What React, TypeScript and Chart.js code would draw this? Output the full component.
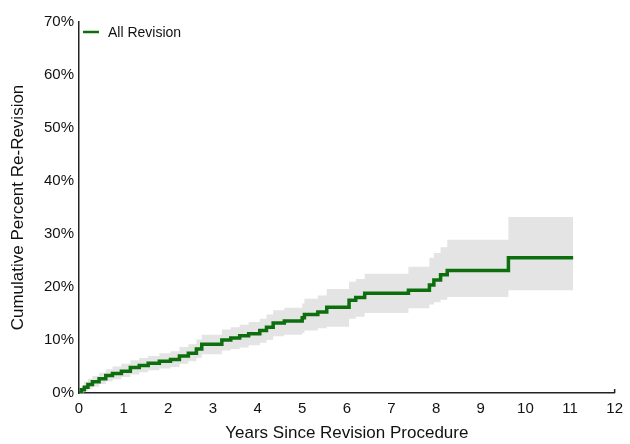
import React, { useEffect, useRef } from 'react';
import { Chart, registerables } from 'chart.js';

Chart.register(...registerables);

const seriesLabel = 'All Revision';
const xTitle = 'Years Since Revision Procedure';
const yTitle = 'Cumulative Percent Re-Revision';

const years = [0, 0.05, 0.12, 0.2, 0.3, 0.45, 0.6, 0.75, 0.95, 1.15, 1.35, 1.55, 1.8, 2.05, 2.25, 2.45, 2.63, 2.75, 3.2, 3.4, 3.6, 3.8, 4.05, 4.2, 4.35, 4.6, 5.0, 5.05, 5.35, 5.55, 6.05, 6.2, 6.4, 7.38, 7.85, 7.95, 8.1, 8.25, 9.62, 11.07];
const cumulative = [0, 0.6, 1.1, 1.6, 2.1, 2.7, 3.3, 3.7, 4.1, 4.8, 5.2, 5.6, 6.0, 6.3, 7.0, 7.5, 8.3, 9.2, 10.0, 10.4, 10.8, 11.2, 11.8, 12.4, 13.2, 13.6, 14.2, 14.8, 15.3, 16.2, 17.5, 18.0, 18.8, 19.4, 20.4, 21.3, 22.3, 23.1, 25.5, 25.5];
const lowerCI = [0, 0.1, 0.4, 0.8, 1.2, 1.7, 2.2, 2.6, 3.0, 3.5, 3.9, 4.3, 4.6, 4.9, 5.5, 6.0, 6.6, 7.3, 8.0, 8.3, 8.6, 9.0, 9.5, 10.0, 10.7, 11.0, 11.3, 11.8, 12.2, 12.5, 14.0, 14.4, 15.1, 16.0, 16.7, 17.1, 17.6, 18.1, 19.4, 19.4];
const upperCI = [0, 1.3, 2.1, 2.7, 3.2, 3.8, 4.5, 5.0, 5.5, 6.2, 6.6, 7.0, 7.5, 7.9, 8.7, 9.2, 10.1, 11.0, 12.0, 12.4, 12.9, 13.4, 14.0, 14.8, 15.6, 16.1, 16.9, 17.8, 18.4, 19.6, 21.0, 21.5, 22.5, 23.8, 25.5, 26.4, 27.5, 28.9, 33.2, 33.2];

const xMin = 0;
const xMax = 12;
const yMin = 0;
const yMax = 70;

const GREEN = '#0c6e0c';
const BAND = '#e4e4e4';
const FONT = "'Liberation Sans', Arial, Helvetica, sans-serif";

const toPoints = (vals: number[]) => years.map((x, i) => ({ x, y: vals[i] }));

const overlayPlugin = {
  id: 'overlay',
  afterDraw(chart: any) {
    const { ctx, chartArea, scales } = chart;
    ctx.save();
    // legend
    const lx = chartArea.left + 4;
    const ly = chartArea.top + 10;
    ctx.strokeStyle = GREEN;
    ctx.lineWidth = 2.5;
    ctx.beginPath();
    ctx.moveTo(lx, ly);
    ctx.lineTo(lx + 16, ly);
    ctx.stroke();
    ctx.fillStyle = '#111';
    ctx.font = `14px ${FONT}`;
    ctx.textBaseline = 'middle';
    ctx.textAlign = 'left';
    ctx.fillText(seriesLabel, lx + 25, ly + 1);
    // end tick on x axis
    const ex = scales.x.getPixelForValue(xMax);
    ctx.strokeStyle = '#222';
    ctx.lineWidth = 1.5;
    ctx.beginPath();
    ctx.moveTo(ex, chartArea.bottom);
    ctx.lineTo(ex, chartArea.bottom - 4);
    ctx.stroke();
    ctx.restore();
  },
};

export default function App() {
  const ref = useRef<HTMLCanvasElement | null>(null);
  useEffect(() => {
    if (!ref.current) return;
    const chart = new Chart(ref.current, {
      type: 'line',
      data: {
        datasets: [
          {
            label: 'upper',
            data: toPoints(upperCI),
            stepped: 'before',
            borderWidth: 0,
            borderColor: 'rgba(0,0,0,0)',
            pointRadius: 0,
            fill: false,
            order: 2,
          },
          {
            label: 'lower',
            data: toPoints(lowerCI),
            stepped: 'before',
            borderWidth: 0,
            borderColor: 'rgba(0,0,0,0)',
            backgroundColor: BAND,
            pointRadius: 0,
            fill: '-1',
            order: 1,
          },
          {
            label: seriesLabel,
            data: toPoints(cumulative),
            stepped: 'before',
            borderWidth: 3.5,
            borderColor: GREEN,
            pointRadius: 0,
            fill: false,
            order: 0,
          },
        ],
      },
      options: {
        animation: false,
        responsive: false,
        layout: { padding: { top: 22, right: 13, left: 0, bottom: 0 } },
        plugins: {
          legend: { display: false },
          tooltip: { enabled: false },
        },
        scales: {
          x: {
            type: 'linear',
            min: xMin,
            max: xMax,
            ticks: {
              stepSize: 1,
              color: '#111',
              font: { size: 15, family: FONT },
              padding: 7,
              maxRotation: 0,
            },
            grid: { display: false, drawTicks: false },
            border: { display: true, color: '#222', width: 1.5 },
            title: {
              display: true,
              text: xTitle,
              color: '#111',
              font: { size: 17, family: FONT },
              padding: { top: 0, bottom: 0 },
            },
            afterFit: (s: any) => {
              s.height = 51;
            },
          },
          y: {
            type: 'linear',
            min: yMin,
            max: yMax,
            ticks: {
              stepSize: 10,
              color: '#111',
              font: { size: 15, family: FONT },
              padding: 5,
              callback: (v: any) => `${v}%`,
            },
            grid: { display: false, drawTicks: false },
            border: { display: true, color: '#222', width: 1.5 },
            title: {
              display: true,
              text: yTitle,
              color: '#111',
              font: { size: 17, family: FONT },
              padding: { top: 8, bottom: 0 },
            },
            afterFit: (s: any) => {
              s.width = 79;
            },
          },
        },
      },
      plugins: [overlayPlugin],
    });
    return () => chart.destroy();
  }, []);
  return (
    <div style={{ position: 'fixed', left: 0, top: 0, width: 630, height: 444, background: '#fff' }}>
      <canvas ref={ref} width={630} height={444} />
    </div>
  );
}
